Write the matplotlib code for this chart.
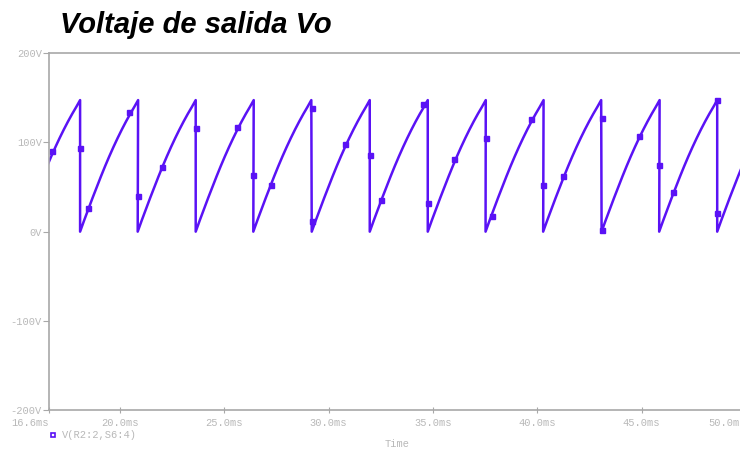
import numpy as np
from matplotlib import pyplot as plt
from matplotlib.lines import Line2D

# start time (ms) of each rising segment
seg_start = [15.31, 18.09, 20.85, 23.63, 26.39, 29.19, 31.97, 34.75,
             37.52, 40.28, 43.08, 45.84, 48.62]
# shape of one rising segment: time after drop (ms) -> volts
cycle_dt = [0, 0.2, 0.4, 0.6, 0.8, 1.0, 1.2, 1.4, 1.6, 1.8, 2.0, 2.2, 2.4, 2.6, 2.78]
cycle_v = [0, 13, 25.5, 38, 50, 62, 73.5, 84.5, 95, 105, 114.5, 123.5, 132, 140, 147.5]

# PSpice symbol markers (ms, V)
mark_t = [16.74, 18.09, 18.48, 20.45, 20.85, 22.03, 23.63, 25.61, 26.39, 27.24,
          29.19, 29.19, 30.80, 31.97, 32.49, 34.51, 34.75, 36.02, 37.52, 37.84,
          39.68, 40.28, 41.22, 43.08, 43.08, 44.86, 45.84, 46.52, 48.62, 48.62]
mark_v = [91, 94, 26, 134.5, 40, 73, 116, 117, 64, 52,
          139, 12.4, 98, 86, 35, 143, 32, 81.5, 104.5, 17,
          126, 52, 62, 128, 2, 107, 75, 44, 147.5, 20.6]

xticks = [16.6, 20, 25, 30, 35, 40, 45, 50]
xlabels = ['16.6ms', '20.0ms', '25.0ms', '30.0ms', '35.0ms', '40.0ms', '45.0ms', '50.0ms']
yticks = [-200, -100, 0, 100, 200]
ylabels = ['-200V', '-100V', '0V', '100V', '200V']

t = np.concatenate([s + np.array(cycle_dt) for s in seg_start])
v = np.concatenate([np.array(cycle_v) for s in seg_start])

col = '#5a12f5'
gray = '#a8a8a8'
txtgray = '#b8b8b8'
mono = 'Liberation Mono'

fig = plt.figure(figsize=(7.4, 4.5), dpi=100)
ax = fig.add_axes([49/740, 1-410/450, (746-49)/740, (410-53.3)/450])
ax.plot(t, v, color=col, linewidth=1.8)
ax.plot(mark_t, mark_v, 's', color=col, markersize=3.6, linestyle='none')

ax.set_xlim(16.6, 50.0)
ax.set_ylim(-200, 200)
ax.set_xticks(xticks)
ax.set_xticklabels(xlabels, family=mono, fontsize=7.5, color=txtgray)
# PSpice keeps the end labels inside the plot
ax.get_xticklabels()[0].set_ha('right')
ax.get_xticklabels()[-1].set_ha('right')
ax.set_yticks(yticks)
ax.set_yticklabels(ylabels, family=mono, fontsize=7.5, color=txtgray)
ax.tick_params(axis='x', direction='inout', length=4, color=gray, pad=4)
ax.tick_params(axis='y', direction='out', length=4, color=gray, pad=1)
for s in ax.spines.values():
    s.set_color(gray)
    s.set_linewidth(1.2)
ax.spines['right'].set_visible(False)
ax.set_xlabel('Time', family=mono, fontsize=7.5, color=txtgray, labelpad=8)

fig.text(60/740, 1-25/450, 'Voltaje de salida Vo', family='Liberation Sans',
         fontsize=21, fontweight='bold', fontstyle='italic', va='center')

fig.add_artist(Line2D([53/740], [1-435/450], transform=fig.transFigure, marker='s',
                      markersize=3.5, mfc='white', mec=col, mew=1.2, linestyle='none'))
fig.text(62/740, 1-435/450, 'V(R2:2,S6:4)', family=mono, fontsize=7.5,
         color=txtgray, va='center')

fig.savefig('out.png')
